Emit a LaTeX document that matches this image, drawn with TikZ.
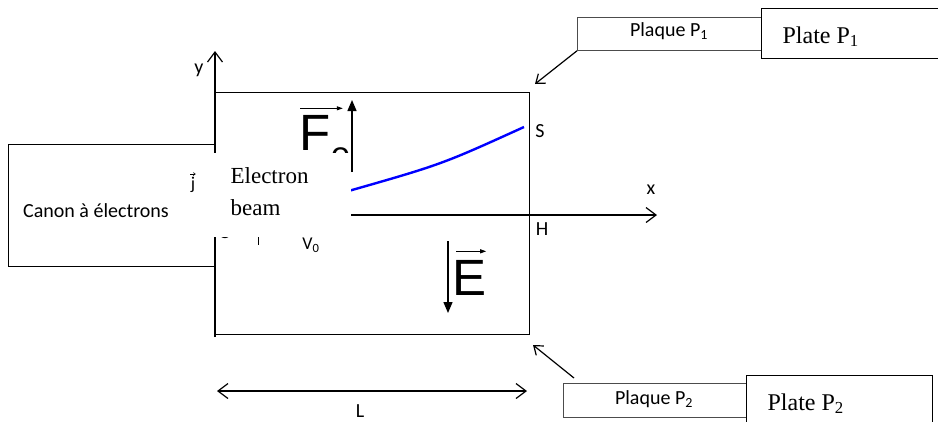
\documentclass[tikz,border=0pt]{standalone}
\usepackage{fontspec}
\setmainfont{Liberation Serif}
\setsansfont{Carlito}
\newfontfamily\arialfont{Liberation Sans}
\usetikzlibrary{arrows.meta,calc}
\begin{document}
\begin{tikzpicture}[x=1pt,y=-1pt,
  line width=1.2pt,
  box/.style={draw, inner sep=0pt, anchor=north west},
  thinbox/.style={draw=black!70, line width=0.8pt, inner sep=0pt, anchor=north west},
  lbl/.style={font=\sffamily\fontsize{20}{24}\selectfont, inner sep=0pt},
  serif/.style={font=\rmfamily\fontsize{24}{28}\selectfont, inner sep=0pt},
  axis/.style={-{Straight Barb[length=10pt,width=15pt]}},
  pointer/.style={-{Straight Barb[length=8pt,width=12pt]}},
  solidhead/.style={line width=1.4pt,-{Triangle[length=11pt,width=9pt]}},
  vecarrow/.style={line width=1pt,-{Triangle[length=6pt,width=4pt]}},
  big/.style={font=\arialfont\fontsize{51}{51}\selectfont, inner sep=0pt},
]
\useasboundingbox (0,0) rectangle (938,421);

% boxes
\node[box, minimum width=314pt, minimum height=242pt] (cap) at (215,92) {};
\node[box, minimum width=207pt, minimum height=122pt] (gun) at (8,144) {};
\node[thinbox, minimum width=184pt, minimum height=33pt] (plq1) at (577,17) {};
\node[box, minimum width=200pt, minimum height=50pt] (plt1) at (761,8) {};
\node[thinbox, minimum width=183pt, minimum height=34pt] (plq2) at (563,383) {};
\node[box, minimum width=186pt, minimum height=60pt] (plt2) at (746,375) {};

% box texts
\node[lbl, anchor=base] (gunt) at (96,217) {Canon à électrons};
\node[lbl, anchor=base] (plq1t) at (669,36) {Plaque P\textsubscript{1}};
\node[serif, anchor=base west] (plt1t) at (782,43) {Plate P\textsubscript{1}};
\node[lbl, anchor=base] (plq2t) at (654,404) {Plaque P\textsubscript{2}};
\node[serif, anchor=base west] (plt2t) at (767,410) {Plate P\textsubscript{2}};

% pointers
\coordinate (tip1) at (535,84);
\draw[pointer] (plq1.south west) -- (tip1);
\coordinate (from2) at (574,378);
\coordinate (tip2) at (533,345);
\draw[pointer] (from2) -- (tip2);

% axes
\coordinate (O) at (215,215);
\coordinate (ybot) at (215,337);
\coordinate (ytip) at (215,51);
\coordinate (xtip) at (657,215);
\draw[axis] (ybot) -- (ytip);
\draw[axis] (O) -- (xtip);
\node[lbl] (ylbl) at (199,70) {y};
\node[lbl] (xlbl) at (651,190) {x};

% trajectory
\coordinate (start) at (345,192);
\coordinate (S) at (524,127);
\draw[blue, line width=2.4pt] (start) .. controls (441.5,164.5) .. (S);
\node[lbl] (Slbl) at (540,131) {S};
\node[lbl] (Hlbl) at (542,229) {H};

% force and field
\coordinate (Fa) at (352,172);
\coordinate (Fb) at (352,100);
\draw[solidhead] (Fa) -- (Fb);
\node[big, anchor=base west] (Fe) at (299,150) {F\raisebox{-16pt}{\fontsize{35}{35}\selectfont e}};
\draw[vecarrow] ([xshift=1pt,yshift=6pt]Fe.north west) -- ([xshift=-8pt,yshift=6pt]Fe.north east);

\coordinate (Ea) at (448,241);
\coordinate (Eb) at (448,313);
\draw[solidhead] (Ea) -- (Eb);
\node[big, anchor=base west] (E) at (452,295) {E};
\draw[vecarrow] ([xshift=4pt,yshift=8pt]E.north west) -- ([xshift=-1pt,yshift=8pt]E.north east);

% labels partly hidden
\node[lbl, anchor=base] (Olbl) at (225,238) {O};
\draw[line width=1pt] (258,226) -- (258,245);
\node[lbl, font=\sffamily\fontsize{18}{20}\selectfont] (V0) at (311,245) {V\textsubscript{0}};

% electron beam label
\node[fill=white, inner sep=0pt, minimum width=139pt, minimum height=84pt, anchor=north west] (beambox) at (211,152) {};
\node[inner sep=0pt, anchor=north west, align=left, font=\rmfamily\fontsize{23}{32}\selectfont] (beam) at (230,167) {Electron\\beam};

% unit vector j
\node[lbl, font=\sffamily\fontsize{18}{20}\selectfont, anchor=base] (jlbl) at (193,189) {j};
\draw[line width=0.6pt, -{Straight Barb[length=2pt,width=3pt]}] ([yshift=2pt]jlbl.north west) -- ([yshift=2pt]jlbl.north east);

% length L
\coordinate (L1) at (217,391);
\coordinate (L2) at (527,391);
\draw[{Straight Barb[length=10pt,width=15pt]}-{Straight Barb[length=10pt,width=15pt]}] (L1) -- (L2);
\node[lbl] (Llbl) at (360,411) {L};
\end{tikzpicture}
\end{document}
